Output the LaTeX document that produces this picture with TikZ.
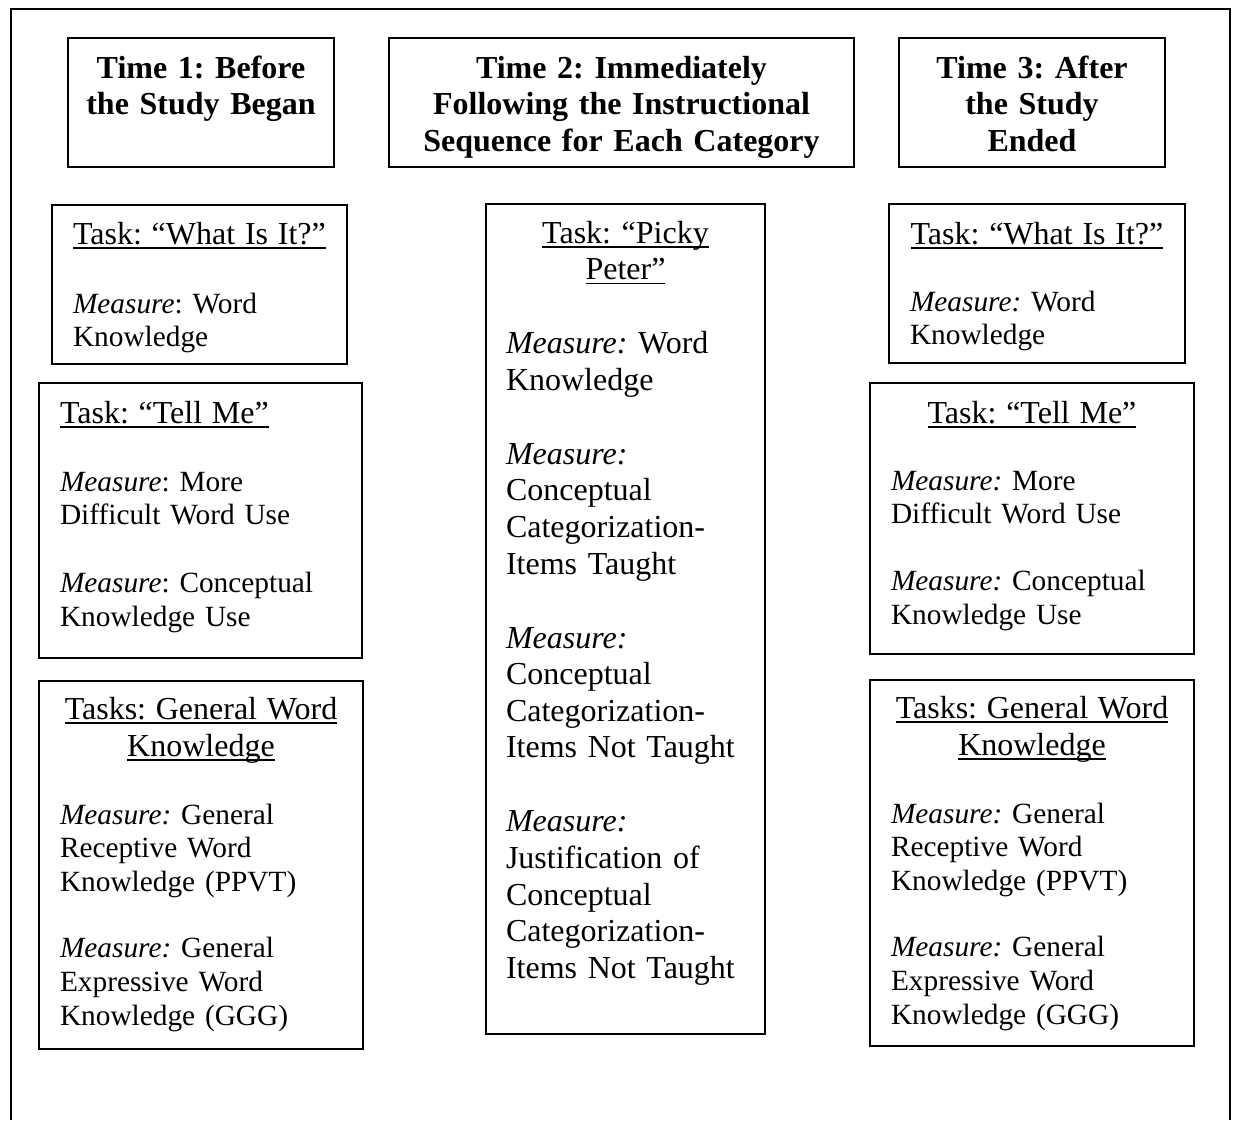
\documentclass[tikz,border=0pt]{standalone}
\usepackage{fontspec}
\setmainfont{Liberation Serif}
\frenchspacing

\newcommand{\bigtxt}{\fontsize{16pt}{18.3pt}\selectfont}
\newcommand{\smalltxt}{\fontsize{14.67pt}{16.9pt}\selectfont}
\newcommand{\uln}[1]{\setbox0=\hbox{#1}\rlap{\rule[-2.4pt]{\wd0}{0.9pt}}\box0}
\newcommand{\tasktitle}[1]{\leavevmode\hspace*{\fill}{\bigtxt\uln{#1}}\hspace*{\fill}\null}

\tikzset{
  timebox/.style={draw, line width=1pt, anchor=north west, inner xsep=1pt, inner ysep=0pt,
    align=center, text height=20pt, text depth=44.5pt,
    font=\fontsize{16pt}{18.25pt}\selectfont\bfseries},
  taskbox/.style={draw, line width=1pt, anchor=north west, inner xsep=10.5pt, inner ysep=0pt,
    align=left, font=\smalltxt},
}

\begin{document}
\begin{tikzpicture}[x=0.5pt, y=-0.5pt]
    \useasboundingbox (0,0) rectangle (1235,1120);
    % frame, open at the bottom
    \draw[line width=1pt] (11,1120) -- (11,9) -- (1230,9) -- (1230,1120);

    % times
    \node[timebox, text width=131pt] (time1) at (67,37) {Time 1: Before\\the Study Began};
    \node[timebox, text width=230.5pt] (time2) at (388,37) {Time 2: Immediately\\Following the Instructional\\Sequence for Each Category};
    \node[timebox, text width=131pt] (time3) at (898,37) {Time 3: After\\the Study\\Ended};

    % time 1 tasks
    \node[taskbox, text width=126.5pt, text height=19.5pt, text depth=60pt] (what1) at (51,204)
        {\tasktitle{Task: “What Is It?”}\\[17.6pt]
         \textit{Measure}: Word\\Knowledge};
    \node[taskbox, text width=140.5pt, text height=20pt, text depth=117.5pt] (tell1) at (38,382)
        {{\bigtxt\uln{Task: “Tell Me”}}\\[17.1pt]
         \textit{Measure}: More\\Difficult Word Use\\[17.1pt]
         \textit{Measure}: Conceptual\\Knowledge Use};
    \node[taskbox, text width=141pt, text height=19pt, text depth=165pt] (general1) at (38,680)
        {\tasktitle{Tasks: General Word}\\[1.6pt]
         \tasktitle{Knowledge}\\[17.1pt]
         \textit{Measure:} General\\Receptive Word\\Knowledge (PPVT)\\[16.1pt]
         \textit{Measure:} General\\Expressive Word\\Knowledge (GGG)};

    % time 2 task
    \node[taskbox, font=\bigtxt, inner xsep=10pt, text width=119.5pt, text height=19.5pt, text depth=395.5pt] (picky) at (485,203)
        {\tasktitle{Task: “Picky}\\
         \tasktitle{Peter”}\\[18.7pt]
         \textit{Measure:} Word\\Knowledge\\[18.7pt]
         \textit{Measure:}\\Conceptual\\Categorization-\\Items Taught\\[18.7pt]
         \textit{Measure:}\\Conceptual\\Categorization-\\Items Not Taught\\[18.7pt]
         \textit{Measure:}\\Justification of\\Conceptual\\Categorization-\\Items Not Taught};

    % time 3 tasks
    \node[taskbox, text width=127pt, text height=20pt, text depth=59.5pt] (what3) at (888,203)
        {\tasktitle{Task: “What Is It?”}\\[16.6pt]
         \textit{Measure:} Word\\Knowledge};
    \node[taskbox, text width=141pt, text height=20pt, text depth=115.5pt] (tell3) at (869,382)
        {\tasktitle{Task: “Tell Me”}\\[16.6pt]
         \textit{Measure:} More\\Difficult Word Use\\[16.6pt]
         \textit{Measure:} Conceptual\\Knowledge Use};
    \node[taskbox, text width=141pt, text height=19pt, text depth=164pt] (general3) at (869,679)
        {\tasktitle{Tasks: General Word}\\[1.6pt]
         \tasktitle{Knowledge}\\[17.1pt]
         \textit{Measure:} General\\Receptive Word\\Knowledge (PPVT)\\[16.1pt]
         \textit{Measure:} General\\Expressive Word\\Knowledge (GGG)};
\end{tikzpicture}
\end{document}
